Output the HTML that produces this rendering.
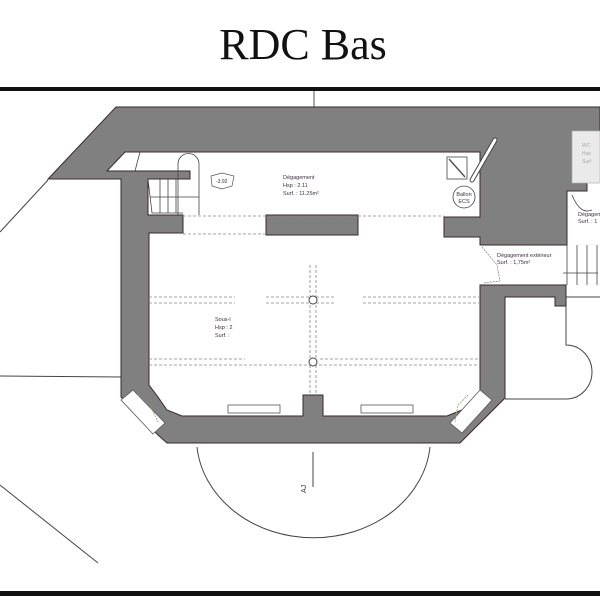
<!DOCTYPE html>
<html><head><meta charset="utf-8"><style>
body{margin:0;width:600px;height:600px;background:#fff;overflow:hidden}
svg{display:block}
.t{font-family:"Liberation Sans",sans-serif;fill:#3a3040}
</style></head><body>
<svg width="600" height="600" viewBox="0 0 600 600">
<text x="303" y="59" text-anchor="middle" font-family="Liberation Serif,serif" font-size="44" fill="#111">RDC Bas</text>
<rect x="0" y="87" width="600" height="4" fill="#111"/>
<rect x="0" y="591" width="600" height="5" fill="#111"/>
<line x1="314" y1="91" x2="314" y2="108" stroke="#555" stroke-width="1"/>
<g stroke="#444" stroke-width="1" fill="none">
<line x1="0" y1="232" x2="48" y2="180"/>
<line x1="0" y1="376" x2="122" y2="377"/>
<line x1="0" y1="485" x2="98" y2="563"/>
<path d="M197 447 A117 100 0 0 0 430 447"/>
<line x1="313" y1="452" x2="313" y2="487"/>
<path d="M505 297 H555 M566 297 H600 M566 306 V345 A26 27 0 0 1 566 399 H505"/>
</g>
<text x="0" y="0" class="t" font-size="7" transform="translate(306,493) rotate(-90)">AJ</text>
<g fill="#808080" stroke="#3a2a2a" stroke-width="1">
<path d="M116 107 H600 V131 H572 V183 H587 V191 H567 V217 H567 V245 H480 V237 H444 V217 H480 V152 H125 L107 171 H190 V179 H148 V215 H183 V233 H149 V385 L158 397 L167 410 L182 416 H303 V395 H323 V416 H447 L462 410 L480 397 L480 285 H566 V306 H555 V297 H505 V398 L468 435 L460 443 H167 L158 435 L121 397 V179 H48 Z"/>
<rect x="266" y="215" width="92" height="20"/>
</g>
<g fill="#fff" stroke="#555" stroke-width="0.8">
<polygon points="121,400 133,390 165,423 153,434"/>
<polygon points="480,390 492,400 462,433 450,423"/>
<rect x="228" y="405" width="52" height="8"/>
<rect x="361" y="405" width="52" height="8"/>
</g>
<g stroke="#8a9a6a" stroke-width="0.8" fill="none" stroke-dasharray="2 1">
<path d="M138 395 L150 405 L158 422"/><path d="M468 395 L458 405 L455 422"/>
</g>
<rect x="572" y="131" width="28" height="52" fill="#eaeaea" stroke="#bbb" stroke-width="0.8"/>
<text x="582" y="147" class="t" font-size="5" style="fill:#aaa">WC</text>
<text x="582" y="155" class="t" font-size="5" style="fill:#aaa">Hsp</text>
<text x="582" y="163" class="t" font-size="5" style="fill:#aaa">Surf</text>
<g stroke="#444" stroke-width="0.8" fill="none">
<line x1="140" y1="152" x2="135" y2="171"/>
<path d="M178 215 V164 A10 10 0 0 1 199 164 V215"/>
<path d="M148 179 L152 213 H183 M160 179 V213 M168 179 V213 M176 179 V213 M150 197 H199"/>
</g>
<g stroke="#888" stroke-width="0.8" stroke-dasharray="3 2" fill="none">
<line x1="183" y1="216" x2="444" y2="216"/>
<line x1="183" y1="234" x2="266" y2="234"/>
<line x1="149" y1="297" x2="235" y2="297"/><line x1="149" y1="303" x2="235" y2="303"/>
<line x1="266" y1="297" x2="334" y2="297"/><line x1="266" y1="303" x2="334" y2="303"/>
<line x1="363" y1="297" x2="480" y2="297"/><line x1="363" y1="303" x2="480" y2="303"/>
<line x1="149" y1="359" x2="245" y2="359"/><line x1="149" y1="365" x2="480" y2="365"/>
<line x1="320" y1="359" x2="480" y2="359"/>
<line x1="310" y1="265" x2="310" y2="395"/><line x1="316" y1="265" x2="316" y2="395"/>
</g>
<circle cx="313" cy="300" r="4" fill="#fff" stroke="#444"/>
<circle cx="313" cy="362" r="4" fill="#fff" stroke="#444"/>
<text x="283" y="179" class="t" font-size="5.5">Dégagement</text>
<text x="283" y="187" class="t" font-size="5.5">Hsp : 2.11</text>
<text x="283" y="195" class="t" font-size="5.5">Surf. : 11.25m²</text>
<path d="M211 176 L222 173 L234 176 L232 186 L222 189 L212 186 Z" fill="#fff" stroke="#555" stroke-width="0.7"/>
<text x="216" y="183" class="t" font-size="5">-3.92</text>
<rect x="447" y="157" width="20" height="22" fill="#fff" stroke="#444" stroke-width="0.8"/>
<line x1="449" y1="159" x2="465" y2="177" stroke="#555" stroke-width="1.5"/>
<path d="M472 180 L495 140" stroke="#444" stroke-width="5" stroke-linecap="round"/>
<path d="M472 180 L495 140" stroke="#fff" stroke-width="3" stroke-linecap="round"/>
<circle cx="464" cy="197" r="11" fill="#fff" stroke="#444" stroke-width="0.8"/>
<text x="464" y="196" text-anchor="middle" class="t" font-size="5.5">Ballon</text>
<text x="464" y="203" text-anchor="middle" class="t" font-size="5.5">ECS</text>
<text x="215" y="321" class="t" font-size="5.5">Sous-l</text>
<text x="215" y="329" class="t" font-size="5.5">Hsp : 2</text>
<text x="215" y="337" class="t" font-size="5.5">Surf. :</text>
<path d="M482 247 L497 265 L500 281 L484 283" fill="none" stroke="#777" stroke-width="0.7" stroke-dasharray="2 1"/>
<text x="497" y="257" class="t" font-size="5.5">Dégagement extérieur</text>
<text x="497" y="264" class="t" font-size="5.5">Surf. : 1,75m²</text>
<g stroke="#444" stroke-width="0.8" fill="none">
<path d="M567 245 V285 M577 245 V285 M587 245 V285 M597 245 V285 M563 273 H598"/>
<path d="M572 195 Q580 215 592 210"/>
</g>
<text x="578" y="216" class="t" font-size="5.5">Dégagem</text>
<text x="578" y="223" class="t" font-size="5.5">Surf. : 1</text>
</svg>
</body></html>
